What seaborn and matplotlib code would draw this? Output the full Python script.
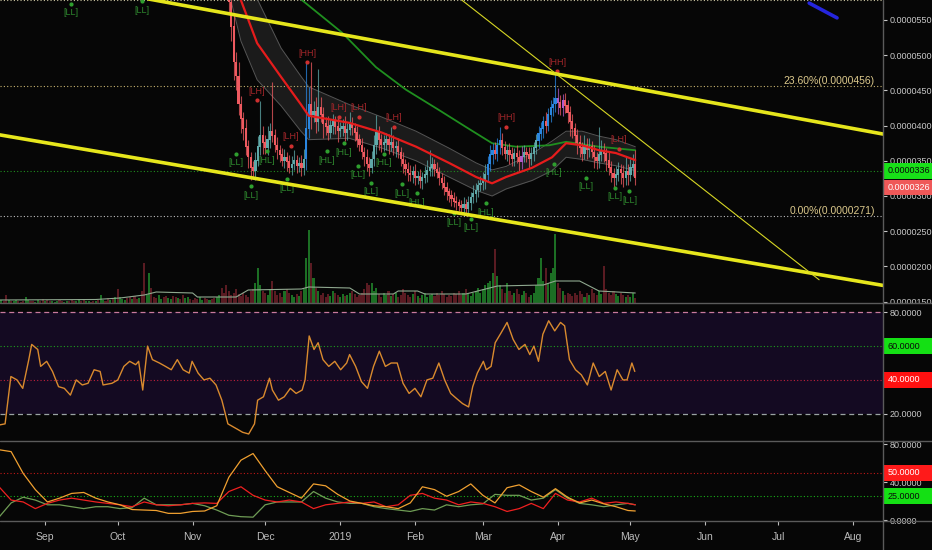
import numpy as np
import pandas as pd
import matplotlib
matplotlib.use("Agg")
import matplotlib.pyplot as plt
import matplotlib.dates as mdates
import matplotlib.transforms as mtransforms
from matplotlib.patches import Rectangle
from matplotlib.lines import Line2D
import seaborn as sns

BG = "#060606"
sns.set_style("dark", {"axes.facecolor": BG, "figure.facecolor": BG})
plt.rcParams["font.family"] = ["Liberation Sans", "DejaVu Sans"]

BASE = pd.Timestamp("2018-08-13")   # day offsets below count from here
UNIT = 1e-7                          # prices are given in units of 0.0000001

# ---- daily candles, 2018-11-14 .. 2019-05-03 ----
candle_start = "2018-11-14"
first_open = 640
close = [620, 600, 575, 540, 490, 470, 430, 410, 395, 370,
         355, 340, 335, 350, 370, 385, 375, 368, 380, 392,
         385, 372, 365, 358, 350, 355, 348, 340, 345, 350,
         342, 346, 340, 352, 395, 430, 415, 420, 405, 425,
         415, 402, 398, 390, 400, 405, 398, 392, 395, 398,
         390, 394, 402, 396, 390, 380, 372, 362, 355, 345,
         340, 352, 372, 390, 380, 372, 375, 380, 372, 376,
         368, 370, 362, 352, 345, 338, 332, 330, 335, 325,
         328, 322, 326, 330, 336, 340, 345, 338, 333, 325,
         318, 312, 306, 300, 296, 292, 290, 286, 283, 288,
         282, 290, 298, 303, 308, 315, 318, 322, 330, 345,
         358, 365, 360, 372, 378, 368, 360, 365, 358, 352,
         360, 355, 348, 356, 362, 358, 352, 360, 368, 378,
         388, 395, 405, 400, 415, 425, 430, 438, 432, 425,
         435, 428, 418, 405, 395, 385, 375, 368, 360, 372,
         365, 370, 362, 355, 350, 358, 365, 360, 350, 340,
         332, 325, 330, 338, 332, 325, 335, 330, 340, 345,
         326]
upper_wick = [30, 25, 20, 25, 20, 15, 20, 12, 10, 15,
              10, 8, 10, 12, 15, 50, 15, 12, 20, 12,
              70, 10, 12, 8, 10, 12, 8, 10, 12, 15,
              8, 10, 12, 15, 95, 25, 60, 15, 20, 55,
              15, 12, 10, 15, 10, 12, 8, 15, 10, 12,
              15, 10, 18, 10, 8, 10, 8, 10, 8, 12,
              10, 12, 15, 25, 10, 8, 12, 10, 8, 22,
              10, 8, 12, 8, 10, 8, 10, 12, 8, 10,
              8, 10, 8, 12, 15, 25, 10, 8, 10, 8,
              8, 10, 8, 6, 8, 10, 8, 6, 8, 10,
              8, 10, 8, 12, 10, 8, 10, 12, 15, 12,
              15, 10, 12, 10, 20, 12, 10, 8, 10, 12,
              8, 12, 10, 15, 10, 8, 12, 10, 8, 10,
              12, 10, 8, 15, 10, 12, 10, 37, 15, 12,
              10, 12, 8, 10, 12, 8, 10, 12, 8, 15,
              10, 12, 8, 10, 8, 40, 15, 10, 8, 12,
              10, 8, 12, 10, 8, 12, 20, 10, 12, 15,
              20]
lower_wick = [15, 20, 15, 20, 25, 20, 15, 20, 15, 12,
              15, 17, 10, 12, 8, 12, 15, 8, 10, 12,
              8, 10, 12, 10, 8, 10, 12, 8, 10, 8,
              10, 8, 12, 10, 15, 12, 20, 10, 15, 12,
              10, 20, 12, 10, 8, 12, 10, 15, 8, 10,
              12, 10, 8, 10, 12, 10, 8, 10, 12, 10,
              12, 8, 10, 12, 15, 10, 8, 10, 12, 8,
              10, 12, 8, 10, 12, 8, 10, 8, 12, 10,
              8, 10, 12, 8, 10, 8, 12, 10, 8, 10,
              8, 10, 12, 8, 10, 8, 10, 8, 7, 10,
              10, 8, 10, 8, 12, 10, 8, 10, 12, 8,
              10, 12, 8, 10, 12, 10, 8, 10, 12, 10,
              10, 8, 12, 10, 8, 10, 12, 8, 10, 8,
              10, 8, 12, 10, 8, 10, 12, 10, 15, 10,
              12, 10, 15, 20, 12, 10, 15, 12, 10, 8,
              12, 10, 8, 15, 12, 10, 8, 12, 15, 10,
              12, 15, 10, 8, 15, 12, 10, 15, 8, 12,
              10]
blue_bars = [34, 35, 109, 110, 111, 113, 114, 130, 131, 132, 134, 135, 136, 137]
purple_bars = [123, 138, 140]

# ---- volume (relative bar height), daily from BASE ----
volume = [2, 3, 2, 8, 3, 2, 2, 3, 2, 1, 2, 6, 3, 2, 2, 1, 3, 2, 4, 2,
          3, 2, 2, 1, 2, 3, 2, 1, 2, 2, 3, 2, 2, 4, 2, 3, 2, 2, 1, 2,
          2, 3, 8, 3, 2, 5, 3, 4, 6, 14, 6, 4, 3, 5, 6, 4, 7, 4, 5, 12,
          40, 8, 30, 15, 6, 5, 8, 4, 6, 7, 5, 4, 7, 6, 5, 4, 8, 5, 6, 4,
          3, 5, 4, 6, 3, 5, 4, 3, 4, 5, 6, 8, 15, 10, 18, 12, 8, 10, 14, 9,
          7, 10, 8, 6, 12, 14, 20, 35, 18, 12, 10, 8, 14, 22, 12, 8, 10, 6, 12, 14,
          10, 8, 6, 9, 7, 12, 14, 45, 73, 40, 25, 15, 12, 8, 10, 6, 9, 7, 12, 10,
          8, 6, 9, 7, 8, 10, 12, 9, 6, 8, 10, 14, 20, 18, 20, 12, 15, 9, 6, 10,
          8, 12, 7, 9, 10, 6, 8, 14, 10, 8, 6, 9, 12, 7, 5, 8, 10, 6, 8, 9,
          7, 10, 8, 12, 9, 6, 8, 7, 10, 9, 12, 8, 10, 14, 9, 7, 10, 12, 15, 10,
          14, 18, 20, 22, 30, 54, 27, 18, 14, 10, 20, 12, 8, 10, 14, 9, 8, 12, 10, 6,
          8, 10, 18, 25, 45, 22, 35, 20, 30, 35, 69, 20, 15, 12, 8, 10, 9, 7, 10, 8,
          12, 9, 6, 10, 8, 14, 10, 8, 12, 9, 37, 14, 10, 8, 12, 9, 7, 10, 8, 6,
          8, 6, 10, 5]
vol_dir_before = ("uudduduudd" "duudduuddu" "dduuudduud" "dduudduudd" "uduuddudud"
                  "uuudduddud" "duuddduudd" "uuddudduud" "ddduuddudd" "uud")
vma_day = [0, 40, 50, 60, 65, 80, 82, 98, 103, 125, 128, 145, 149, 163, 165, 173,
           176, 193, 206, 225, 230, 240, 248, 263]
vma_val = [3, 3.5, 5, 8, 11, 10, 6, 6, 13, 14, 16, 15, 9, 9, 12, 12,
           9, 9, 17, 18, 22, 22, 12, 10]

# ---- overlays on price ----
ema_day = [95, 100, 106.7, 116.6, 124.8, 128, 144.7, 158.3, 172.4, 186, 197.2,
           203.8, 209.6, 220.3, 228.6, 234.4, 241, 248, 255, 263]
ema_val = [650, 578, 517, 469, 430, 414, 404, 390, 370, 347, 327,
           318, 327, 340, 355, 375, 372, 365, 361, 351]
band_hi = [720, 650, 580, 510, 470, 455, 430, 412, 392, 368, 347,
           337, 342, 360, 378, 392, 392, 385, 380, 370]
band_lo = [590, 520, 465, 428, 392, 380, 382, 368, 350, 327, 308,
           300, 310, 322, 336, 355, 352, 347, 343, 336]
ma_day = [120, 125.3, 141.8, 155.8, 168.2, 181.9, 193, 203.8, 213.7, 227.4, 234.4, 248, 263]
ma_val = [610, 578, 532, 483, 451, 422, 398, 375, 370, 372, 377, 370, 365]

chan_top_day, chan_top_px = [60, 365.4], [581, 388]
chan_bot_day, chan_bot_px = [0, 365.4], [387, 173]
diag_day, diag_px = [191.4, 339], [578, 181]
blue_day, blue_px = [334.9, 346.4], [574, 553]

fib_level = [578, 456, 271]
fib_text = ["38.20%(0.0000578)", "23.60%(0.0000456)", "0.00%(0.0000271)"]
last_price, last_close = 336, 326

pivot_day = [127.3, 106.7, 120.7, 140.6, 148.8, 163.3, 209.6, 230.7, 256.3,
             29.8, 59.1, 98, 104.2, 110.8, 119.1, 135.6, 142.6, 159.2, 148.4,
             153.8, 166.6, 172.8, 188.1, 195.1, 201.3, 229.4, 242.7, 254.5, 260.6]
pivot_px = [503, 449, 384, 425, 425, 411, 411, 490, 380,
            560, 564, 347, 301, 351, 311, 351, 362, 347, 330,
            306, 304, 291, 263, 255, 277, 333, 313, 299, 294]
pivot_text = ["[HH]", "[LH]", "[LH]", "[LH]", "[LH]", "[LH]", "[HH]", "[HH]", "[LH]",
              "[LL]", "[LL]", "[LL]", "[LL]", "[HL]", "[LL]", "[HL]", "[HL]", "[HL]", "[LL]",
              "[LL]", "[LL]", "[HL]", "[LL]", "[LL]", "[HL]", "[HL]", "[LL]", "[LL]", "[LL]"]

# ---- RSI ----
rsi_day = [0.0, 2.5, 4.9, 7.4, 9.8, 12.3, 13.5, 16.0, 17.2, 19.7,
           22.1, 24.6, 27.0, 29.5, 31.9, 34.4, 36.8, 39.3, 41.8, 43.0,
           46.7, 49.1, 51.6, 54.0, 56.5, 57.7, 59.4, 61.4, 63.4, 66.3,
           68.8, 71.2, 73.7, 76.1, 78.6, 79.8, 82.3, 84.7, 87.2, 89.7,
           92.1, 94.6, 98.3, 100.7, 103.2, 105.6, 106.9, 109.3, 111.8, 113.0,
           115.5, 117.9, 120.4, 122.8, 125.3, 126.5, 128.2, 130.2, 131.9, 133.9,
           136.3, 138.8, 141.2, 143.7, 144.9, 147.4, 149.8, 152.3, 154.8, 157.2,
           159.7, 162.1, 164.6, 167.0, 169.5, 171.9, 174.4, 176.9, 179.3, 181.8,
           184.2, 186.7, 189.1, 191.6, 194.1, 195.8, 197.7, 200.2, 201.4, 203.4,
           205.1, 207.6, 210.0, 212.5, 214.9, 217.4, 219.4, 221.1, 223.0, 224.8,
           227.2, 229.7, 232.1, 233.8, 235.8, 238.3, 240.7, 243.2, 245.6, 248.1,
           250.6, 253.0, 255.5, 257.9, 259.6, 261.6, 262.8]
rsi_val = [13.3, 14, 42, 40, 35, 52, 61, 58, 48, 51,
           45, 36, 35, 31, 40, 37, 38, 46, 45, 37,
           38, 40, 48, 51, 49, 51, 34, 60, 52, 50,
           48, 46, 52, 46, 44, 51, 44, 40, 41, 37,
           28, 14, 11, 9, 8, 14, 28, 30, 41, 34,
           28, 30, 35, 32, 34, 40, 66, 58, 62, 52,
           48, 51, 46, 50, 55, 48, 39, 35, 48, 57,
           48, 50, 50, 38, 32, 35, 30, 40, 41, 50,
           40, 32, 29, 26, 24, 36, 44, 51, 46, 48,
           62, 68, 74, 64, 58, 61, 55, 60, 51, 67,
           75, 69, 74, 72, 52, 46, 43, 37, 50, 42,
           45, 34, 46, 40, 40, 50, 45]

# ---- ADX / DMI ----
dmi_day = list(range(0, 261, 5)) + [263]
adx = [74, 72, 49, 32, 19, 23, 28, 29, 23, 19,
       16, 11, 10.5, 10, 7, 7, 9, 9.5, 15, 45,
       63, 70, 52, 35, 29, 23, 38, 36, 27, 20,
       17.5, 15, 14, 12, 18, 35, 32, 25, 30, 38,
       26, 18, 34, 37, 30, 24, 33, 24, 18, 21,
       17, 14, 10, 9.5]
di_minus = [35, 21, 19, 12, 17.5, 21, 23, 21, 19, 17.5,
            16, 14, 19, 16, 15, 16, 17.5, 18, 17.5, 30,
            35, 26, 21, 19, 21, 19, 12, 16, 17.5, 19,
            17.5, 19, 14, 16, 26, 28, 23, 21, 16, 19,
            17.5, 14, 9, 12, 17.5, 12, 28, 21, 19, 23,
            17.5, 19, 17.5, 16]
di_plus = [3, 18, 24, 21, 16, 16, 14, 12, 14, 14,
           12, 13, 23, 16, 16, 16, 17.5, 15, 10.5, 5,
           3.5, 3, 16, 19, 19, 19, 30, 23, 19, 17.5,
           17.5, 14, 12, 10.5, 9, 12, 10.5, 16, 14, 16,
           17, 27, 26, 26, 21, 23, 32, 23, 17.5, 16,
           14, 16, 17.5, 16]

LBL = 6.5  # right-hand scale font size


def days(d):
    return BASE + pd.to_timedelta(np.asarray(d, dtype=float), unit="D")


def day(d):
    return BASE + pd.Timedelta(days=float(d))


def side_box(ax, y, half, text, face, fg):
    tr = mtransforms.blended_transform_factory(ax.transAxes, ax.transData)
    ax.add_patch(Rectangle((1.0, y - half), 49 / 883, 2 * half, transform=tr,
                           facecolor=face, edgecolor="none", clip_on=False, zorder=10))
    ax.text(1.0 + 5 / 883, y, text, transform=tr, color=fg, fontsize=LBL,
            va="center", ha="left", clip_on=False, zorder=11)


def style_axis(ax):
    ax.set_facecolor(BG)
    ax.grid(False)
    for s in ax.spines.values():
        s.set_visible(False)
    ax.yaxis.tick_right()
    ax.tick_params(axis="y", colors="#c8c8c8", labelsize=LBL, length=3, pad=2)
    ax.set_xlim(day(0.4), day(365.4))


def clip_labels(ax, y0, y1):
    box = mtransforms.TransformedBbox(mtransforms.Bbox([[0, y0], [1, y1]]), fig.transFigure)
    for lbl in ax.get_yticklabels():
        lbl.set_clip_box(box)
        lbl.set_clip_on(True)


fig = plt.figure(figsize=(9.32, 5.5), dpi=100)
fig.patch.set_facecolor(BG)
W = 883 / 932
Y_PRICE, Y_RSI, Y_DMI = 1 - 303 / 550, 1 - 441 / 550, 1 - 521 / 550

# volume sits behind the price panel
ax_vol = fig.add_axes([0, Y_PRICE, W, 1 - Y_PRICE])
ax = fig.add_axes([0, Y_PRICE, W, 1 - Y_PRICE], sharex=ax_vol)
ax_rsi = fig.add_axes([0, Y_RSI, W, Y_PRICE - Y_RSI], sharex=ax_vol)
ax_dmi = fig.add_axes([0, Y_DMI, W, Y_RSI - Y_DMI], sharex=ax_vol)

# ---- volume ----
candle_dates = pd.date_range(candle_start, periods=len(close), freq="D")
c = np.array(close, dtype=float)
o = np.r_[first_open, c[:-1]]
vol_up = [ch == "u" for ch in vol_dir_before] + list(c >= o)
vol_col = ["#1c6f24" if u else "#5a1b22" for u in vol_up]
ax_vol.bar(days(range(len(volume))), volume, width=0.85, color=vol_col, lw=0, edgecolor="none")
sns.lineplot(x=days(vma_day), y=vma_val, ax=ax_vol, color="#8fa88f", lw=0.8)
ax_vol.set_ylim(0, 303)
ax_vol.set_facecolor(BG)
ax_vol.set_yticks([])
ax_vol.tick_params(axis="x", labelbottom=False, length=0)
for s in ax_vol.spines.values():
    s.set_visible(False)

# ---- price panel ----
style_axis(ax)
ax.patch.set_visible(False)
ax.set_ylim(148.0 * UNIT, 578.4 * UNIT)
ax.set_yticks(np.arange(150, 551, 50) * UNIT)
ax.yaxis.set_major_formatter(matplotlib.ticker.FuncFormatter(lambda v, p: f"{v:.7f}"))
ax.tick_params(axis="x", labelbottom=False, length=0)

ax.fill_between(days(ema_day), np.array(band_lo) * UNIT, np.array(band_hi) * UNIT,
                color="#1b1b1b", lw=0, zorder=1)
sns.lineplot(x=days(ema_day), y=np.array(band_hi) * UNIT, ax=ax, color="#555555", lw=0.7, zorder=2)
sns.lineplot(x=days(ema_day), y=np.array(band_lo) * UNIT, ax=ax, color="#555555", lw=0.7, zorder=2)
sns.lineplot(x=days(ma_day), y=np.array(ma_val) * UNIT, ax=ax, color="#1f8f1f", lw=1.3, zorder=3)

for lvl, col in zip(fib_level, ["#c9c3a0", "#c8b470", "#bdbdbd"]):
    ax.axhline(lvl * UNIT, color=col, lw=0.8, ls=(0, (1, 2)), zorder=1)
for lvl, txt in zip(fib_level, fib_text):
    ax.text(day(362), lvl * UNIT, txt, color="#dcc98c", fontsize=7.5,
            ha="right", va="bottom", clip_on=True, zorder=6)
ax.axhline(last_price * UNIT, color="#1f8c1f", lw=0.8, ls=(0, (1, 2)), zorder=1)

col = []
for i, (oo, cc) in enumerate(zip(o, c)):
    if i in blue_bars:
        col.append("#2a86e0")
    elif i in purple_bars:
        col.append("#b05ac8")
    elif cc >= oo:
        col.append("#5fa9a9")
    else:
        col.append("#ee5a60")
hi = np.maximum(o, c) + np.array(upper_wick)
lo = np.minimum(o, c) - np.array(lower_wick)
ax.vlines(candle_dates, lo * UNIT, hi * UNIT, colors=col, lw=0.8, alpha=0.75, zorder=4)
ax.bar(candle_dates, (np.abs(c - o) + 1.0) * UNIT, bottom=np.minimum(o, c) * UNIT,
       width=0.9, color=col, lw=0, edgecolor="none", zorder=5)

sns.lineplot(x=days(ema_day), y=np.array(ema_val) * UNIT, ax=ax, color="#e51c1c", lw=1.6, zorder=6)

# pivot markers: label plus a small dot between label and the bar
for dd, pp, tt in zip(pivot_day, pivot_px, pivot_text):
    is_high = tt[2] == "H"
    clr = "#a3262a" if is_high else "#2f8a2f"
    ax.text(day(dd), pp * UNIT, tt, fontsize=6.5, ha="center", va="center",
            color=clr, zorder=7, clip_on=True)
    dot_px = pp - 13 if is_high else pp + 13
    ax.plot([day(dd)], [dot_px * UNIT], marker="o", ms=2, color="#d03030" if is_high else "#2fa02f",
            lw=0, zorder=7, clip_on=True)

sns.lineplot(x=days(chan_top_day), y=np.array(chan_top_px) * UNIT, ax=ax, color="#e6e61c", lw=2.6, zorder=8)
sns.lineplot(x=days(chan_bot_day), y=np.array(chan_bot_px) * UNIT, ax=ax, color="#e6e61c", lw=2.6, zorder=8)
sns.lineplot(x=days(diag_day), y=np.array(diag_px) * UNIT, ax=ax, color="#d6d624", lw=0.8, zorder=8)
sns.lineplot(x=days(blue_day), y=np.array(blue_px) * UNIT, ax=ax, color="#2525dd", lw=2.6, zorder=8)

side_box(ax, last_price * UNIT, 11.3 * UNIT, "0.0000336", "#18e018", "#0a0a0a")
side_box(ax, (last_price - 24) * UNIT, 11.3 * UNIT, f"{last_close * UNIT:.7f}", "#ef5858", "#ffffff")
ax.set_xlabel("")
ax.set_ylabel("")
clip_labels(ax, Y_PRICE, 1)

# ---- RSI panel ----
style_axis(ax_rsi)
ax_rsi.set_ylim(3.85, 85.5)
ax_rsi.axhspan(20, 80, color="#140a22", lw=0, zorder=0)
ax_rsi.axhline(80, color="#c97a9e", lw=0.9, ls=(0, (4, 3)))
ax_rsi.axhline(20, color="#9aa3a3", lw=0.9, ls=(0, (4, 3)))
ax_rsi.axhline(60, color="#1ea01e", lw=0.8, ls=(0, (1, 2)))
ax_rsi.axhline(40, color="#c0203c", lw=0.8, ls=(0, (1, 2)))
sns.lineplot(x=days(rsi_day), y=rsi_val, ax=ax_rsi, color="#d98a2e", lw=1.0, zorder=3)
ax_rsi.set_yticks([20, 80])
ax_rsi.yaxis.set_major_formatter(matplotlib.ticker.FuncFormatter(lambda v, p: f"{v:.4f}"))
ax_rsi.tick_params(axis="x", labelbottom=False, length=0)
side_box(ax_rsi, 60, 4.8, "60.0000", "#14e014", "#0a0a0a")
side_box(ax_rsi, 40, 4.8, "40.0000", "#ff1010", "#ffffff")
ax_rsi.set_xlabel("")
ax_rsi.set_ylabel("")

# ---- ADX / DMI panel ----
style_axis(ax_dmi)
ax_dmi.set_ylim(-1.05, 83.2)
ax_dmi.axhline(50, color="#c01818", lw=0.8, ls=(0, (1, 2)))
ax_dmi.axhline(25, color="#18b018", lw=0.8, ls=(0, (1, 2)))
sns.lineplot(x=days(dmi_day), y=di_plus, ax=ax_dmi, color="#6f9d55", lw=0.9)
sns.lineplot(x=days(dmi_day), y=di_minus, ax=ax_dmi, color="#f02020", lw=0.9)
sns.lineplot(x=days(dmi_day), y=adx, ax=ax_dmi, color="#f0a030", lw=0.9)
ax_dmi.set_yticks([0, 40, 80])
ax_dmi.yaxis.set_major_formatter(matplotlib.ticker.FuncFormatter(lambda v, p: f"{v:.4f}"))
side_box(ax_dmi, 50, 8.4, "50.0000", "#ff1a1a", "#ffffff")
side_box(ax_dmi, 25, 8.4, "25.0000", "#14e014", "#0a0a0a")
ax_dmi.xaxis.set_major_locator(mdates.MonthLocator())
ax_dmi.xaxis.set_major_formatter(matplotlib.ticker.FuncFormatter(
    lambda v, p: "2019" if mdates.num2date(v).month == 1 else mdates.num2date(v).strftime("%b")))
ax_dmi.tick_params(axis="x", colors="#bcbcbc", labelsize=7.5, length=3, pad=5,
                   labelbottom=True, bottom=True)
ax_dmi.set_xlabel("")
ax_dmi.set_ylabel("")
clip_labels(ax_dmi, 0, Y_RSI)

# panel separators and the price-scale border
for yy in (Y_PRICE, Y_RSI, Y_DMI):
    fig.add_artist(Line2D([0, 1], [yy, yy], transform=fig.transFigure, color="#5a5a5a", lw=1))
fig.add_artist(Line2D([W, W], [0, 1], transform=fig.transFigure, color="#5a5a5a", lw=1))

fig.savefig("out.png", dpi=100, facecolor=BG)
